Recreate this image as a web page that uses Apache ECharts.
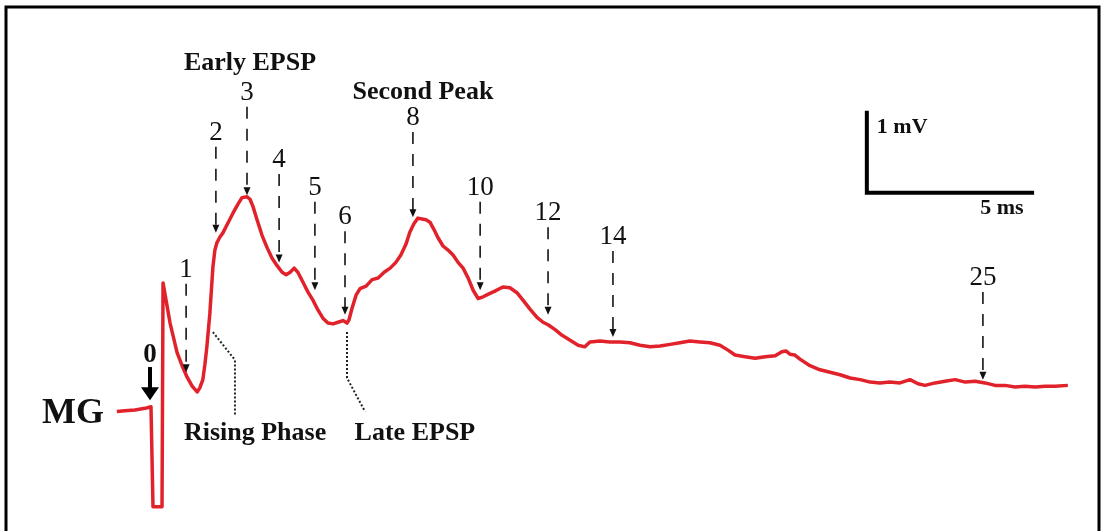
<!DOCTYPE html>
<html>
<head>
<meta charset="utf-8">
<script src="https://cdn.jsdelivr.net/npm/echarts@6/dist/echarts.min.js"></script>
<style>
html,body{margin:0;padding:0;background:#fff;}
#chart{width:1104px;height:531px;}
</style>
</head>
<body>
<div id="chart"></div>
<script>
// ---- Trace: time (ms) and potential (mV, relative to baseline) ----
const traceTime = [-0.99,-0.75,-0.45,-0.15,0.03,0.09,0.36,0.39,0.48,0.60,0.81,0.96,1.11,1.26,1.41,1.49,1.58,1.64,1.70,1.79,1.88,1.94,2.00,2.09,2.18,2.33,2.48,2.63,2.75,2.90,2.99,3.08,3.20,3.35,3.50,3.65,3.80,3.95,4.07,4.19,4.31,4.42,4.57,4.72,4.87,5.02,5.17,5.32,5.47,5.62,5.77,5.89,5.95,6.04,6.16,6.28,6.46,6.64,6.82,7.00,7.18,7.35,7.50,7.65,7.77,7.89,8.01,8.13,8.25,8.37,8.49,8.61,8.76,8.91,9.06,9.21,9.36,9.51,9.66,9.81,9.96,10.10,10.31,10.55,10.76,10.97,11.15,11.36,11.57,11.75,11.90,12.11,12.32,12.56,12.80,13.00,13.15,13.45,13.75,14.05,14.35,14.65,14.95,15.25,15.55,15.84,16.14,16.44,16.74,17.04,17.28,17.49,17.79,18.09,18.39,18.69,18.89,19.01,19.13,19.28,19.43,19.73,20.03,20.33,20.63,20.93,21.23,21.53,21.82,22.12,22.42,22.72,22.96,23.17,23.47,23.77,24.07,24.37,24.67,24.96,25.26,25.56,25.86,26.16,26.46,26.76,27.06,27.44];
const traceMv = [-0.02,-0.01,0,0.02,0.04,-1.18,-1.18,1.55,1.34,1.06,0.70,0.54,0.40,0.29,0.22,0.27,0.37,0.55,0.77,1.18,1.74,1.95,2.04,2.11,2.16,2.28,2.40,2.51,2.59,2.60,2.57,2.48,2.32,2.13,1.98,1.85,1.76,1.68,1.65,1.68,1.73,1.68,1.56,1.44,1.34,1.22,1.12,1.06,1.05,1.07,1.09,1.06,1.10,1.24,1.40,1.48,1.51,1.59,1.61,1.68,1.73,1.80,1.89,2.02,2.17,2.27,2.34,2.33,2.32,2.29,2.20,2.10,2.00,1.95,1.89,1.80,1.73,1.61,1.46,1.36,1.38,1.41,1.45,1.50,1.49,1.43,1.34,1.23,1.13,1.07,1.04,0.98,0.91,0.85,0.79,0.77,0.83,0.84,0.83,0.83,0.82,0.79,0.77,0.78,0.80,0.82,0.84,0.83,0.82,0.79,0.73,0.67,0.65,0.63,0.65,0.66,0.71,0.72,0.68,0.67,0.62,0.54,0.49,0.46,0.43,0.39,0.37,0.34,0.33,0.34,0.33,0.37,0.32,0.30,0.33,0.35,0.37,0.34,0.35,0.33,0.30,0.30,0.28,0.29,0.28,0.29,0.29,0.30];

// ---- Numbered markers (label text, time, label level, arrow tip level) ----
const markerLabels = ['0','1','2','3','4','5','6','8','10','12','14','25'];
const markerTimes  = [0, 1.08, 1.97, 2.90, 3.86, 4.93, 5.83, 7.86, 9.87, 11.90, 13.84, 24.90];
const markerLabelMv = [0.67, 1.71, 3.38, 3.87, 3.05, 2.71, 2.35, 3.56, 2.71, 2.40, 2.11, 1.61];
const markerTipMv   = [0.12, 0.46, 2.16, 2.62, 1.80, 1.46, 1.16, 2.35, 1.46, 1.16, 0.89, 0.37];

// ---- Text annotations ----
const noteTexts = ['Early EPSP', 'Second Peak', 'Rising Phase', 'Late EPSP', 'MG'];
const noteTime  = [2.99, 8.16, 3.14, 7.92, -2.30];
const noteMv    = [4.23, 3.88, -0.28, -0.28, -0.04];

// ---- Dotted leader lines ----
const risingLeader = [[1.88, 0.95], [2.54, 0.61], [2.54, -0.06]];
const lateLeader   = [[5.89, 0.95], [5.89, 0.39], [6.43, -0.02]];

// ---- Scale bar ----
const scaleBarTime = 21.43, scaleBarMv = 2.65, scaleBarMs = 5, scaleBarV = 1;
const scaleTexts = ['1 mV', '5 ms'];
const scaleTextTime = [21.73, 25.47];
const scaleTextMv = [3.45, 2.46];

const SERIF = '"Liberation Serif", "DejaVu Serif", serif';
const INK = '#111';

const chart = echarts.init(document.getElementById('chart'), null, {renderer: 'canvas'});

const traceData = traceTime.map((t, i) => [t, traceMv[i]]);
const markerData = markerTimes.map((t, i) => [t, markerLabelMv[i], markerTipMv[i]]);
const noteData = noteTime.map((t, i) => [t, noteMv[i]]);

function markerItem(params, api) {
  const i = params.dataIndex;
  const t = api.value(0);
  const pl = api.coord([t, api.value(1)]);
  const pt = api.coord([t, api.value(2)]);
  const x = pl[0];
  const children = [{
    type: 'text',
    style: {x: x, y: pl[1], text: markerLabels[i], fill: INK,
      font: (i === 0 ? 'bold ' : '') + '27px ' + SERIF, align: 'center', verticalAlign: 'middle'}
  }];
  if (i === 0) {
    children.push({type: 'line', shape: {x1: x, y1: pl[1] + 12, x2: x, y2: pt[1] - 10},
      style: {stroke: '#000', lineWidth: 4}});
    children.push({type: 'polygon', shape: {points: [[x - 9, pt[1] - 13], [x + 9, pt[1] - 13], [x, pt[1]]]},
      style: {fill: '#000'}});
  } else {
    children.push({type: 'line', shape: {x1: x, y1: pl[1] + 14, x2: x, y2: pt[1] - 6},
      style: {stroke: '#222', lineWidth: 1.7, lineDash: [12, 10]}});
    children.push({type: 'polygon', shape: {points: [[x - 3.5, pt[1] - 8], [x + 3.5, pt[1] - 8], [x, pt[1]]]},
      style: {fill: '#111'}});
  }
  return {type: 'group', children: children};
}

function noteItem(params, api) {
  const i = params.dataIndex;
  const p = api.coord([api.value(0), api.value(1)]);
  const big = noteTexts[i] === 'MG';
  return {type: 'text', style: {x: p[0], y: p[1], text: noteTexts[i], fill: INK,
    font: 'bold ' + (big ? '36px ' : '26px ') + SERIF, align: 'center', verticalAlign: 'middle'}};
}

function scaleItem(params, api) {
  const p0 = api.coord([scaleBarTime, scaleBarMv]);
  const pTop = api.coord([scaleBarTime, scaleBarMv + scaleBarV]);
  const pRight = api.coord([scaleBarTime + scaleBarMs, scaleBarMv]);
  const t1 = api.coord([scaleTextTime[0], scaleTextMv[0]]);
  const t2 = api.coord([scaleTextTime[1], scaleTextMv[1]]);
  return {type: 'group', children: [
    {type: 'polyline', shape: {points: [pTop, p0, pRight]}, style: {stroke: '#000', lineWidth: 4, fill: null}},
    {type: 'text', style: {x: t1[0], y: t1[1], text: scaleTexts[0], fill: INK, font: 'bold 22px ' + SERIF, align: 'left', verticalAlign: 'middle'}},
    {type: 'text', style: {x: t2[0], y: t2[1], text: scaleTexts[1], fill: INK, font: 'bold 22px ' + SERIF, align: 'center', verticalAlign: 'middle'}}
  ]};
}

function leaderItem(params, api) {
  const lines = [risingLeader, lateLeader].map(pts => ({
    type: 'polyline', shape: {points: pts.map(p => api.coord(p))},
    style: {stroke: '#222', lineWidth: 2, lineDash: [2, 2], fill: null}
  }));
  return {type: 'group', children: lines};
}

chart.setOption({
  animation: false,
  backgroundColor: '#fff',
  grid: {left: 0, right: 0, top: 0, bottom: 0},
  xAxis: {type: 'value', min: -4.484, max: 28.52, show: false},
  yAxis: {type: 'value', min: -1.476, max: 5.0, show: false},
  graphic: [{
    type: 'polyline', silent: true,
    shape: {points: [[6, 531], [6, 7], [1099, 7], [1099, 531]]},
    style: {stroke: '#000', lineWidth: 3, fill: null}
  }],
  series: [
    {type: 'line', data: traceData, showSymbol: false, smooth: false, clip: false,
      lineStyle: {color: '#e1222b', width: 3.5, join: 'round'}, silent: true, z: 3},
    {type: 'custom', data: markerData, renderItem: markerItem, silent: true, z: 4},
    {type: 'custom', data: noteData, renderItem: noteItem, silent: true, z: 4},
    {type: 'custom', data: [[0, 0]], renderItem: scaleItem, silent: true, z: 4},
    {type: 'custom', data: [[0, 0]], renderItem: leaderItem, silent: true, z: 4}
  ]
});
</script>
</body>
</html>
